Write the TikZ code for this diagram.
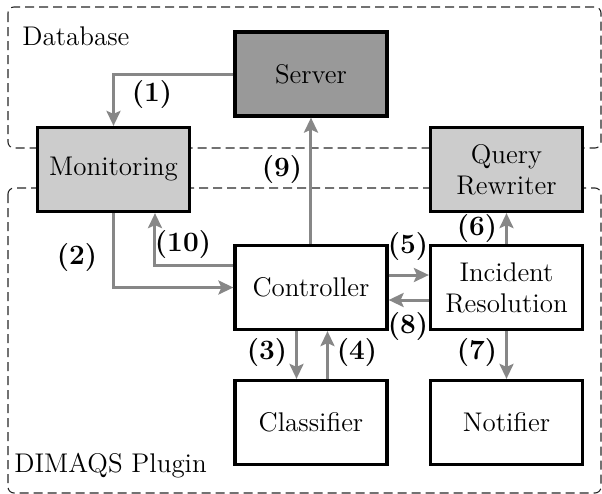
\documentclass[tikz,border=0pt]{standalone}
\usetikzlibrary{arrows.meta,calc}
\begin{document}
\begin{tikzpicture}[x=0.5pt,y=-0.5pt,
  font=\fontsize{13.5}{15.5}\selectfont,
  box/.style={draw=black,line width=1.6pt,minimum width=76pt,minimum height=42pt,inner sep=0pt,align=center,fill=white},
  light/.style={box,fill=black!20},
  arr/.style={draw=black!47,line width=1.5pt,-{Stealth[length=7.5pt,width=7pt,inset=1.5pt]}},
  lbl/.style={font=\fontsize{14}{16}\selectfont\bfseries,inner sep=0pt},
  region/.style={draw=black!85,line width=0.55pt,dash pattern=on 4.5pt off 2.5pt,rounded corners=3pt}]
\useasboundingbox (0,0) rectangle (602,494);
\draw[region] (8,7) rectangle (601,148);
\draw[region] (8,188) rectangle (601,493);
\node[anchor=base west,inner sep=0pt] (db) at (22,45) {Database};
\node[anchor=base west,inner sep=0pt] (pl) at (14,472) {DIMAQS Plugin};
\node[box,fill=black!40] (server) at (311,74) {Server};
\node[light] (mon) at (113.5,169.5) {Monitoring};
\node[light] (qr) at (506.5,169.5) {Query\\Rewriter};
\node[box] (ctrl) at (311,287.5) {Controller};
\node[box] (inc) at (506.5,287.5) {Incident\\Resolution};
\node[box] (cls) at (311,422.5) {Classifier};
\node[box] (noti) at (506.5,422.5) {Notifier};
% arrows
\draw[arr] (server.west) -| (mon.north);
\draw[arr] (mon.south) |- (ctrl.west);
\coordinate (c10) at ($(ctrl.west)+(0,-22.5)$);
\draw[arr] (c10) -| (155,0 |- mon.south);
\draw[arr] (ctrl.north) -- (server.south);
\coordinate (c5) at ($(ctrl.east)+(0,-12.5)$);
\draw[arr] (c5) -- (inc.west |- c5);
\coordinate (c8) at ($(inc.west)+(0,12.5)$);
\draw[arr] (c8) -- (ctrl.east |- c8);
\draw[arr] (inc.north) -- (qr.south);
\coordinate (c3) at ($(ctrl.south)+(-14.5,0)$);
\draw[arr] (c3) -- (c3 |- cls.north);
\coordinate (c4) at ($(cls.north)+(16.5,0)$);
\draw[arr] (c4) -- (c4 |- ctrl.south);
\draw[arr] (inc.south) -- (noti.north);
% labels
\node[lbl] (l1) at (152,95) {(1)};
\node[lbl] (l2) at (77,258) {(2)};
\node[lbl] (l10) at (183,245) {(10)};
\node[lbl] (l9) at (282,170) {(9)};
\node[lbl] (l5) at (408,247) {(5)};
\node[lbl] (l8) at (408,327) {(8)};
\node[lbl] (l6) at (477,229) {(6)};
\node[lbl] (l3) at (267,353) {(3)};
\node[lbl] (l4) at (357,353) {(4)};
\node[lbl] (l7) at (477,353) {(7)};
\end{tikzpicture}
\end{document}
